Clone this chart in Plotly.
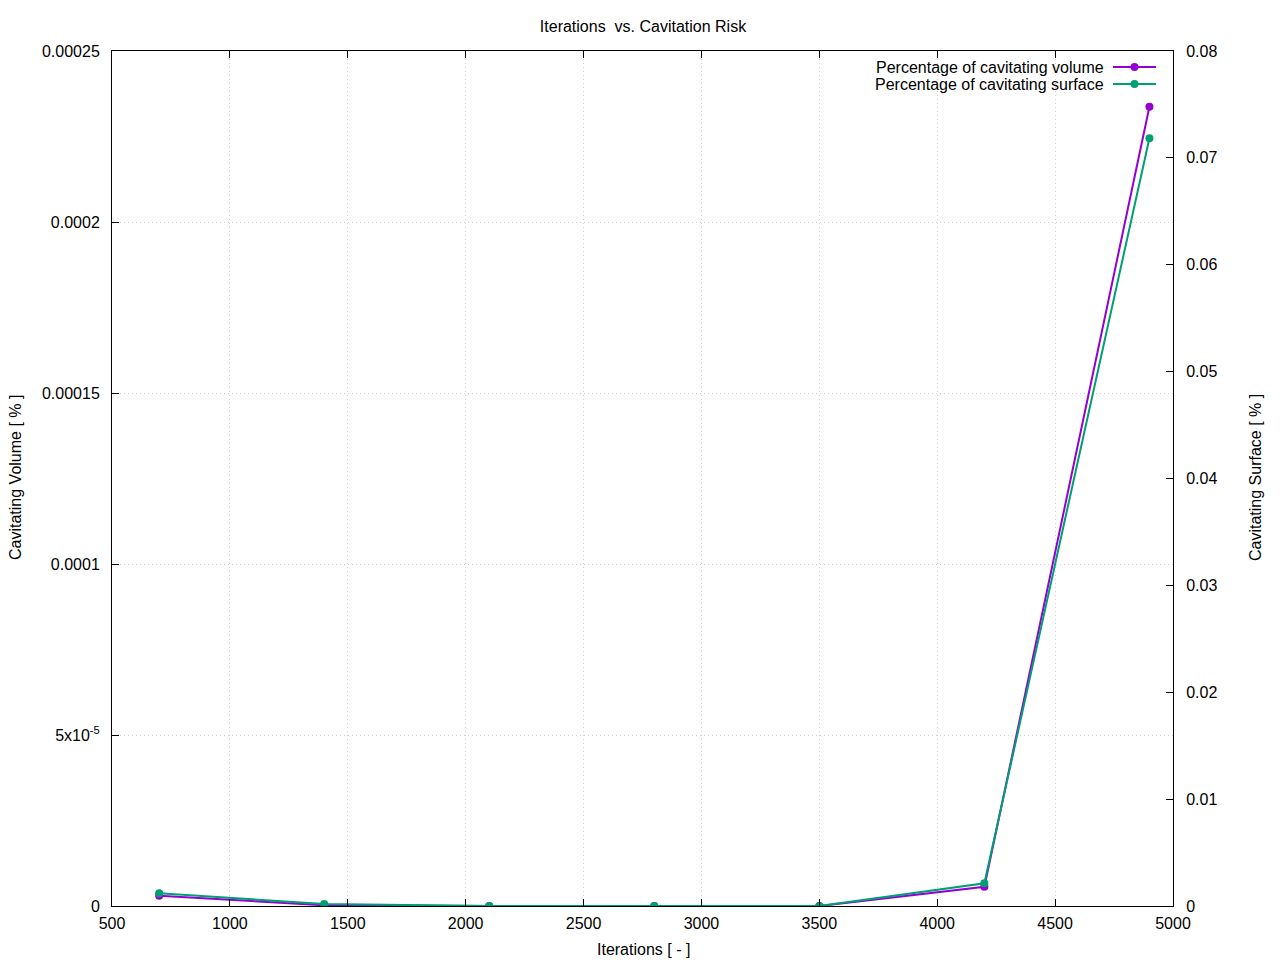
import plotly.graph_objects as go

iterations = [700, 1400, 2100, 2800, 3500, 4200, 4900]
cav_volume = [3.0e-6, 2.0e-7, 0.0, 0.0, 0.0, 5.6e-6, 2.337e-4]
cav_surface = [0.00119, 0.00019, 0.0, 0.0, 0.0, 0.00212, 0.07183]

names = ["Percentage of cavitating volume", "Percentage of cavitating surface"]
colors = ["#9400D3", "#009E73"]

x_ticks = [500, 1000, 1500, 2000, 2500, 3000, 3500, 4000, 4500, 5000]
y_ticks = [0, 0.00005, 0.0001, 0.00015, 0.0002, 0.00025]
y_ticktext = ["0", "5x10<sup>-5</sup>", "0.0001", "0.00015", "0.0002", "0.00025"]
y2_ticks = [0, 0.01, 0.02, 0.03, 0.04, 0.05, 0.06, 0.07, 0.08]
y2_ticktext = ["0", "0.01", "0.02", "0.03", "0.04", "0.05", "0.06", "0.07", "0.08"]

font = "Liberation Sans, Arial, sans-serif"
FS = 16

# page body has an 8px margin; work in window pixels and shift
OFF = 8
W, H = 1280 - OFF, 960 - OFF
L, R, T, B = 112 - OFF, 1173 - OFF, 51 - OFF, 906 - OFF

fig = go.Figure()
fig.add_trace(go.Scatter(x=iterations, y=cav_volume, mode="lines+markers", name=names[0],
                         line=dict(color=colors[0], width=2), marker=dict(size=8, color=colors[0]),
                         yaxis="y", showlegend=False))
fig.add_trace(go.Scatter(x=iterations, y=cav_surface, mode="lines+markers", name=names[1],
                         line=dict(color=colors[1], width=2), marker=dict(size=8, color=colors[1]),
                         yaxis="y2", showlegend=False))

axis_common = dict(showline=True, linecolor="black", linewidth=1, ticks="inside", ticklen=7,
                   tickcolor="black", zeroline=False, automargin=False,
                   tickfont=dict(size=FS, color="black", family=font))
grid = dict(showgrid=True, gridcolor="#d0d0d0", griddash="1px,3px", gridwidth=1)

fig.update_layout(
    width=W, height=H,
    paper_bgcolor="white", plot_bgcolor="white",
    font=dict(family=font, size=FS, color="black"),
    margin=dict(l=L, r=W - R, t=T, b=H - B, autoexpand=False),
    title=dict(text="Iterations  vs. Cavitation Risk", x=(643 - OFF) / W, xanchor="center",
               y=1 - (26 - OFF) / H, yanchor="middle", font=dict(size=FS)),
    xaxis=dict(range=[500, 5000], tickvals=x_ticks, mirror="ticks", ticklabelstandoff=3,
               **grid, **axis_common),
    yaxis=dict(range=[0, 0.00025], tickvals=y_ticks, ticktext=y_ticktext, ticklabelstandoff=8,
               **grid, **axis_common),
    yaxis2=dict(range=[0, 0.08], tickvals=y2_ticks, ticktext=y2_ticktext, overlaying="y",
                side="right", showgrid=False, ticklabelstandoff=9,
                **axis_common),
)

pw, ph = R - L, B - T


def px_x(x):
    return (x - OFF - L) / pw


def px_y(y):
    return (B - (y - OFF)) / ph


# axis titles
fig.add_annotation(xref="paper", yref="paper", x=px_x(643), y=px_y(949), text="Iterations [ - ]",
                   showarrow=False, xanchor="center", yanchor="middle", font=dict(size=FS))
fig.add_annotation(xref="paper", yref="paper", x=px_x(16), y=px_y(478), text="Cavitating Volume [ % ]",
                   showarrow=False, textangle=-90, xanchor="center", yanchor="middle", font=dict(size=FS))
fig.add_annotation(xref="paper", yref="paper", x=px_x(1256), y=px_y(478), text="Cavitating Surface [ % ]",
                   showarrow=False, textangle=-90, xanchor="center", yanchor="middle", font=dict(size=FS))

# Custom gnuplot-style legend (text right-aligned, sample on the right)
legend_y = [67, 84]
for i in range(2):
    yp = px_y(legend_y[i])
    fig.add_annotation(xref="paper", yref="paper", x=px_x(1106), y=yp,
                       text=names[i], showarrow=False, xanchor="right", yanchor="middle",
                       font=dict(size=FS, color="black"))
    x0, x1 = px_x(1113), px_x(1156)
    fig.add_shape(type="line", xref="paper", yref="paper", x0=x0, x1=x1, y0=yp, y1=yp,
                  line=dict(color=colors[i], width=2))
    xc = (x0 + x1) / 2
    dx, dy = 4 / pw, 4 / ph
    fig.add_shape(type="circle", xref="paper", yref="paper", x0=xc - dx, x1=xc + dx,
                  y0=yp - dy, y1=yp + dy, fillcolor=colors[i], line=dict(color=colors[i], width=0))

fig.write_html("out.html")
